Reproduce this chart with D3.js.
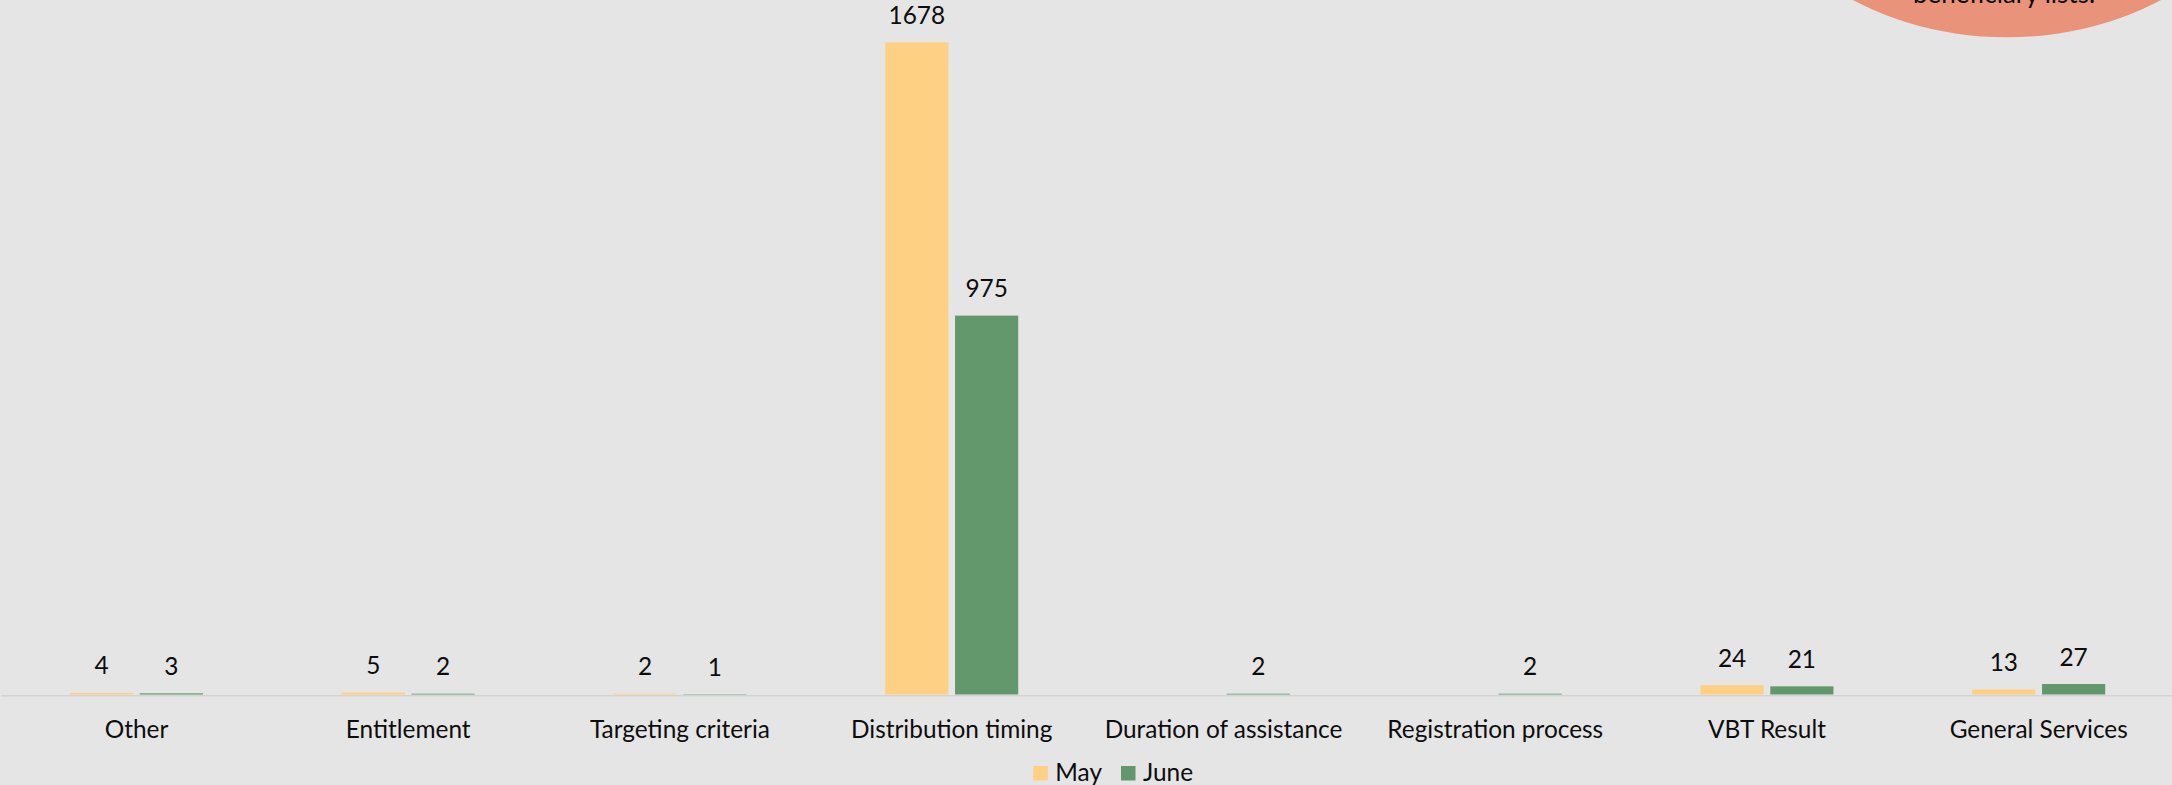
<!DOCTYPE html>
<html>
<head>
<meta charset="utf-8">
<script src="https://cdn.jsdelivr.net/npm/d3@7"></script>
<style>
  html, body { margin: 0; padding: 0; background: #e5e5e5; }
  svg { display: block; }
  text { font-family: Lato, "Open Sans", sans-serif; fill: #0d0d0d; }
</style>
</head>
<body>
<svg id="chart" width="2172" height="785"></svg>
<script>
// Feedback categories and monthly counts
const categories = ["Other", "Entitlement", "Targeting criteria", "Distribution timing",
  "Duration of assistance", "Registration process", "VBT Result", "General Services"];
const seriesNames = ["May", "June"];
const mayValues = [4, 5, 2, 1678, null, null, 24, 13];
const juneValues = [3, 2, 1, 975, 2, 2, 21, 27];
const seriesColors = ["#fdd083", "#63976c"];
const yMax = 1800;
const noteText = "beneficiary lists.";

const W = 2172, H = 785;
const fontSize = 24.4;
const svg = d3.select("#chart");

svg.append("rect").attr("width", W).attr("height", H).attr("fill", "#e5e5e5");

const baseY = 695.2;

const x0 = d3.scaleBand()
  .domain(categories)
  .range([0.6, 2174.6])
  .paddingInner(0.5106)
  .paddingOuter(0.2553);

const x1 = d3.scaleBand()
  .domain(seriesNames)
  .range([0, x0.bandwidth()])
  .paddingInner(0.095);

const y = d3.scaleLinear().domain([0, yMax]).range([694.5, -5]);

const rows = categories.map((c, i) => ({
  category: c,
  values: [
    { series: "May", value: mayValues[i] },
    { series: "June", value: juneValues[i] }
  ]
}));

const color = d3.scaleOrdinal().domain(seriesNames).range(seriesColors);

// Bars
const groups = svg.append("g").selectAll("g")
  .data(rows).join("g")
  .attr("transform", d => `translate(${x0(d.category)},0)`);

groups.selectAll("rect")
  .data(d => d.values.filter(v => v.value != null))
  .join("rect")
  .attr("x", d => x1(d.series))
  .attr("width", x1.bandwidth())
  .attr("y", d => y(d.value))
  .attr("height", d => y(0) - y(d.value))
  .attr("fill", d => color(d.series));

// Value labels
groups.selectAll("text")
  .data(d => d.values.filter(v => v.value != null))
  .join("text")
  .attr("x", d => x1(d.series) + x1.bandwidth() / 2)
  .attr("y", d => y(d.value) - 18.5)
  .attr("text-anchor", "middle")
  .attr("font-size", fontSize)
  .text(d => d.value);

// Category axis
const xAxis = d3.axisBottom(x0).tickSize(0).tickSizeOuter(0);
const axisG = svg.append("g")
  .attr("transform", `translate(0,${baseY})`)
  .call(xAxis);
axisG.select(".domain").attr("stroke", "#d3d3d3").attr("stroke-width", 1.5);
axisG.selectAll(".tick text")
  .attr("y", 43).attr("dy", 0)
  .attr("font-size", fontSize)
  .attr("font-family", "Lato, 'Open Sans', sans-serif")
  .attr("fill", "#0d0d0d");

// Legend
const legend = svg.append("g").attr("transform", "translate(1033.3,766)");
const legendItems = legend.selectAll("g")
  .data(seriesNames).join("g")
  .attr("transform", (d, i) => `translate(${i * 87.7},0)`);
legendItems.append("rect")
  .attr("width", 14.5).attr("height", 14.5)
  .attr("fill", d => color(d));
legendItems.append("text")
  .attr("x", 22).attr("y", 14.7)
  .attr("font-size", fontSize)
  .text(d => d);

// Callout shape in the corner
svg.append("ellipse")
  .attr("cx", 2007).attr("cy", -162.7)
  .attr("rx", 265).attr("ry", 200)
  .attr("fill", "#e9937a");
svg.append("text")
  .attr("x", 2004).attr("y", 3)
  .attr("text-anchor", "middle")
  .attr("font-size", 26)
  .attr("fill", "#000")
  .text(noteText);
</script>
</body>
</html>
